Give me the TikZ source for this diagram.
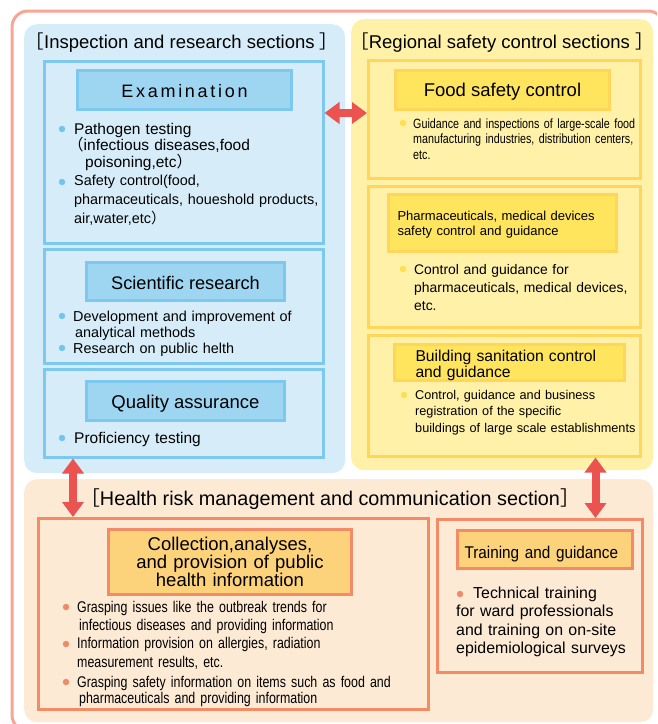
\documentclass[tikz,border=0pt]{standalone}
\usepackage{fontspec}
\setmainfont{Liberation Sans}
\newfontfamily\cjkfont{Noto Sans CJK JP}
\newfontfamily\narrowfont[FakeStretch=0.8, WordSpace=0.8]{Liberation Sans}
\newfontfamily\semifont[FakeStretch=0.9, WordSpace=0.9]{Liberation Sans}
\newfontfamily\spacedfont[LetterSpace=15]{Liberation Sans}
\usepackage{xcolor}
\usepackage{tikz}
\usetikzlibrary{arrows.meta}

\definecolor{secBlue}{HTML}{D6EDF9}
\definecolor{lineBlue}{HTML}{7DC8EE}
\definecolor{hdrBlue}{HTML}{9ED5F1}
\definecolor{dotBlue}{HTML}{70C4EE}
\definecolor{secYellow}{HTML}{FFF1A8}
\definecolor{lineYellow}{HTML}{FFD659}
\definecolor{hdrYellow}{HTML}{FFE45E}
\definecolor{dotYellow}{HTML}{FFE04A}
\definecolor{secOrange}{HTML}{FDEAD5}
\definecolor{lineOrange}{HTML}{F28B66}
\definecolor{hdrOrange}{HTML}{FCD27B}
\definecolor{dotOrange}{HTML}{F0896A}
\definecolor{frameRed}{HTML}{F6A596}
\definecolor{arrowRed}{HTML}{EA5350}

\newcommand{\lbr}{{\cjkfont ［}}
\newcommand{\rbr}{{\cjkfont ］}}
\newcommand{\lpar}{{\cjkfont （}}
\newcommand{\rpar}{{\cjkfont ）}}

\begin{document}
\begin{tikzpicture}[x=1pt, y=-1pt,
        section/.style={rounded corners=13pt, anchor=north west, inner sep=0pt},
        box/.style={draw, line width=2.5pt, anchor=north west, inner sep=0pt},
        hdr/.style={draw, line width=3pt, anchor=north west, inner sep=0pt, text height=14pt, text depth=0pt},
        itm/.style={anchor=base west, align=left, inner sep=0pt, text width=360pt},
        title/.style={anchor=base, inner sep=0pt, font=\fontsize{18.5}{20}\selectfont},
        biarrow/.style={draw=arrowRed, line width=8pt, {Triangle[width=21pt,length=15pt]}-{Triangle[width=21pt,length=15pt]}}]
                        \useasboundingbox (0,0) rectangle (657,724);
                        \clip (0,0) rectangle (657,724);
                        \fill[white] (0,0) rectangle (657,724);
                        \draw[frameRed, line width=3pt, rounded corners=16pt] (12,11) rectangle (664,731);

                        \node (insp) [section, fill=secBlue, minimum width=321pt, minimum height=449pt] at (24,24) {};
                        \node (region) [section, fill=secYellow, minimum width=302pt, minimum height=451pt] at (351,19) {};
                        \node (health) [section, fill=secOrange, minimum width=629pt, minimum height=243pt] at (24,479) {};

                        \node (inspTitle) [title] at (182,48) {\lbr Inspection and research sections \rbr};
                        \node (regionTitle) [title] at (502,48) {\lbr Regional safety control sections \rbr};
                        \node (healthTitle) [title, font=\fontsize{19.8}{22}\selectfont] at (330,505) {\lbr Health risk management and communication section\rbr};

                        \node (exam) [box, draw=lineBlue, fill=secBlue, minimum width=279pt, minimum height=182pt] at (43,60) {};
                        \node (sci) [box, draw=lineBlue, fill=secBlue, minimum width=279pt, minimum height=114pt] at (43,248) {};
                        \node (qa) [box, draw=lineBlue, fill=secBlue, minimum width=279pt, minimum height=88pt] at (43,368) {};

                        \node (food) [box, draw=lineYellow, fill=secYellow, minimum width=272pt, minimum height=118pt] at (367,59) {};
                        \node (pharma) [box, draw=lineYellow, fill=secYellow, minimum width=272pt, minimum height=141pt] at (367,185) {};
                        \node (bldg) [box, draw=lineYellow, fill=secYellow, minimum width=272pt, minimum height=121pt] at (367,334) {};

                        \node (coll) [box, draw=lineOrange, fill=secOrange, minimum width=390pt, minimum height=191pt] at (37,517) {};
                        \node (train) [box, draw=lineOrange, fill=secOrange, minimum width=205pt, minimum height=153pt] at (436,518) {};

                        \node (examHdr) [hdr, draw=lineBlue, fill=hdrBlue, minimum width=214pt, minimum height=39pt, text height=15pt, font=\spacedfont\fontsize{18}{20}\selectfont] at (76,69) {Examination};
                        \node (sciHdr) [hdr, draw=lineBlue, fill=hdrBlue, minimum width=198pt, minimum height=38pt, text height=16pt, font=\fontsize{18.2}{20}\selectfont] at (85,261) {Scientific research};
                        \node (qaHdr) [hdr, draw=lineBlue, fill=hdrBlue, minimum width=198pt, minimum height=39pt, font=\fontsize{18.5}{20}\selectfont] at (85,380) {Quality assurance};

                        \node (foodHdr) [hdr, draw=lineYellow, fill=hdrYellow, minimum width=214pt, minimum height=39pt, text height=13pt, font=\fontsize{18.5}{20}\selectfont] at (394,69) {Food safety control};
                        \node (pharmaHdr) [hdr, draw=lineYellow, fill=hdrYellow, minimum width=228pt, minimum height=57pt, text height=9.3pt, text depth=15pt, text width=210pt, align=left, font=\fontsize{13}{15}\selectfont] at (387,193) {Pharmaceuticals, medical devices\\safety control and guidance};
                        \node (bldgHdr) [hdr, draw=lineYellow, fill=hdrYellow, minimum width=230pt, minimum height=36pt, text height=11.2pt, text depth=13pt, text width=188pt, align=left, font=\fontsize{15.7}{13}\selectfont] at (393,343) {Building sanitation control\\and guidance};

                        \node (collHdr) [hdr, draw=lineOrange, fill=hdrOrange, minimum width=243pt, minimum height=65pt, text height=13pt, text depth=36pt, text width=230pt, align=center, font=\fontsize{18.5}{18}\selectfont] at (107,528) {Collection,analyses,\\and provision of public\\health information};
                        \node (trainHdr) [hdr, draw=lineOrange, fill=hdrOrange, minimum width=175pt, minimum height=38pt, text height=18pt, text width=161pt, align=left, font=\semifont\fontsize{17}{20}\selectfont] at (456,529) {Training and guidance};

                        \node (pathogen) [itm, font=\fontsize{15.5}{16.5}\selectfont] at (74,134) {Pathogen testing\\\hspace*{-6pt}\lpar infectious diseases,food\\\hspace*{11pt}poisoning,etc\rpar};
                        \node (safety) [itm, font=\fontsize{14.4}{19}\selectfont] at (74,185) {Safety control(food,\\pharmaceuticals, houeshold products,\\air,water,etc\rpar};
                        \node (develop) [itm, font=\fontsize{14.4}{16}\selectfont] at (73,321) {Development and improvement of\\\hspace*{2pt}analytical methods};
                        \node (public) [itm, font=\fontsize{14.4}{16}\selectfont] at (73,353) {Research on public helth};
                        \node (proficiency) [itm, font=\fontsize{15.5}{18}\selectfont] at (74,443) {Proficiency testing};

                        \node (foodText) [itm, font=\narrowfont\fontsize{13.4}{15.5}\selectfont] at (413,128) {Guidance and inspections of large-scale food\\manufacturing industries, distribution centers,\\etc.};
                        \node (pharmaText) [itm, font=\fontsize{13.9}{18}\selectfont] at (414,274) {Control and guidance for\\pharmaceuticals, medical devices,\\etc.};
                        \node (bldgText) [itm, font=\fontsize{12.7}{16.5}\selectfont] at (415,399) {Control, guidance and business\\registration of the specific\\buildings of large scale establishments};

                        \node (trends) [itm, font=\narrowfont\fontsize{15.5}{18}\selectfont] at (77,612) {Grasping issues like the outbreak trends for\\\hspace*{2pt}infectious diseases and providing information};
                        \node (allergy) [itm, font=\narrowfont\fontsize{15.5}{19}\selectfont] at (77,648) {Information provision on allergies, radiation\\measurement results, etc.};
                        \node (safetyInfo) [itm, font=\narrowfont\fontsize{15.5}{16.5}\selectfont] at (77,687) {Grasping safety information on items such as food and\\\hspace*{2pt}pharmaceuticals and providing information};
                        \node (trainText) [itm, font=\fontsize{15.9}{18.5}\selectfont] at (456,598) {\hspace*{17pt}Technical training\\for ward professionals\\and training on on-site\\epidemiological surveys};

                        \foreach \y in {129, 182, 316, 348, 438}
                            \fill[dotBlue] (62,\y) circle (3.2pt);
                        \foreach \x/\y in {403/123, 403/269, 404/395}
                            \fill[dotYellow] (\x,\y) circle (3.2pt);
                        \foreach \x/\y in {66/607, 66/644, 66/682, 460/594}
                            \fill[dotOrange] (\x,\y) circle (3.2pt);

                        \draw[biarrow] ([yshift=-53pt]exam.north east) -- ([yshift=-54pt]food.north west);
                        \draw[biarrow] ([xshift=30pt]qa.south west) -- ([xshift=36pt]coll.north west);
                        \draw[biarrow] ([xshift=-46pt]bldg.south east) -- ([xshift=-48pt]train.north east);
                    \end{tikzpicture}
\end{document}
